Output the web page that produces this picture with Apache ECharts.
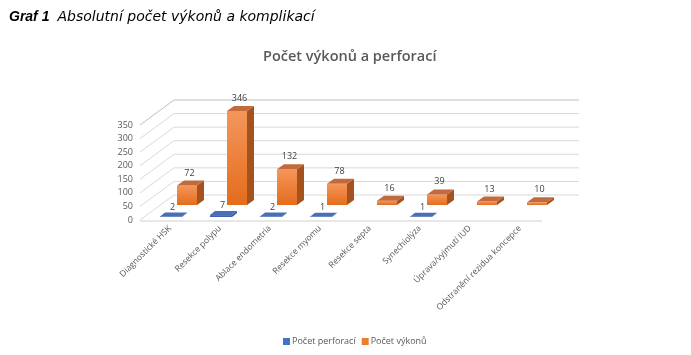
<!DOCTYPE html>
<html><head><meta charset="utf-8">
<script src="https://cdn.jsdelivr.net/npm/echarts@6/dist/echarts.min.js"></script>
<style>html,body{margin:0;padding:0;background:#fff}#c{width:691px;height:355px}</style>
</head><body><div id="c"></div>
<script>
const categories = ['Diagnostické HSK','Resekce polypu','Ablace endometria','Resekce myomu','Resekce septa','Synechiolýza','Úprava/vyjmutí IUD','Odstranění rezidua koncepce'];
const perforace = [2, 7, 2, 1, null, 1, null, null];
const vykony = [72, 346, 132, 78, 16, 39, 13, 10];
const yTicks = [0, 50, 100, 150, 200, 250, 300, 350];

const chart = echarts.init(document.getElementById('c'));
const WALL = [34, -25];

function boxItem(api, val, offX, offY, w, d, cFront, cSide, cTop, labelTxt, labGap) {
  const idx = api.value(0);
  const b = api.coord([idx, 0]);
  const t = api.coord([idx, val]);
  const x0 = b[0] + offX - w / 2, x1 = x0 + w;
  const yb = b[1] + offY, yt = t[1] + offY;
  const dx = d[0], dy = d[1];
  return {
    type: 'group',
    children: [
      {type: 'polygon', shape: {points: [[x1, yb], [x1, yt], [x1 + dx, yt + dy], [x1 + dx, yb + dy]]}, style: {fill: cSide}},
      {type: 'rect', shape: {x: x0, y: yt, width: w, height: Math.max(yb - yt, 0.01)}, style: {fill: cFront}},
      {type: 'polygon', shape: {points: [[x0, yt], [x1, yt], [x1 + dx, yt + dy], [x0 + dx, yt + dy]]}, style: {fill: cTop}},
      {type: 'text', style: {text: labelTxt, x: x0 + w / 2 + dx / 2 - 1, y: yt + dy - labGap, align: 'center', verticalAlign: 'bottom', fill: '#404040', font: '9px "Open Sans", sans-serif'}}
    ]
  };
}

const option = {
  animation: false,
  backgroundColor: '#fff',
  title: [
    {text: '{b|Graf 1} {i|Absolutní počet výkonů a komplikací}', left: 4, top: 3,
     textStyle: {fontWeight: 'normal', rich: {b: {fontFamily: 'Liberation Sans', fontWeight: 'bold', fontStyle: 'italic', fontSize: 14, color: '#000'},
                        i: {fontFamily: 'DejaVu Sans', fontWeight: 'normal', fontStyle: 'italic', fontSize: 14, color: '#000', padding: [0, 0, 0, 3]}}}},
    {text: 'Počet výkonů a perforací', left: 258, top: 44,
     textStyle: {fontFamily: 'Open Sans', fontWeight: 600, fontSize: 14.5, color: '#595959'}}
  ],
  legend: {
    bottom: 4, left: 278, itemWidth: 7, itemHeight: 7, itemGap: 6,
    textStyle: {fontFamily: 'Open Sans', fontSize: 9, color: '#595959', padding: [0, 0, 0, -3]},
    data: [{name: 'Počet perforací', icon: 'rect', itemStyle: {color: '#4472C4'}},
           {name: 'Počet výkonů', icon: 'rect', itemStyle: {color: '#ED7D31'}}]
  },
  grid: {left: 145, right: 146, top: 125, bottom: 135},
  xAxis: {
    type: 'category', data: categories,
    axisLine: {show: false}, axisTick: {show: false},
    axisLabel: {interval: 0, rotate: 45, fontSize: 8.5, color: '#595959', fontFamily: 'Open Sans', margin: 7}
  },
  yAxis: {
    type: 'value', min: 0, max: 350, interval: 50,
    axisLine: {show: false}, axisTick: {show: false}, splitLine: {show: false},
    axisLabel: {fontSize: 9, color: '#595959', fontFamily: 'Open Sans', margin: 12}
  },
  series: [
    {
      type: 'custom', name: 'walls', silent: true, z: 1,
      data: yTicks.map(v => [0, v]),
      renderItem: function (params, api) {
        const cs = params.coordSys;
        const v = api.value(1);
        const y = api.coord([0, v])[1];
        const lx = cs.x - 5;
        const children = [
          {type: 'polyline', shape: {points: [[lx, y], [lx + WALL[0], y + WALL[1]], [cs.x + cs.width + WALL[0], y + WALL[1]]]},
           style: {stroke: v === 350 ? '#bfbfbf' : '#d9d9d9', lineWidth: 1, fill: null}}
        ];
        if (v === 0) {
          children.push({type: 'line', shape: {x1: lx, y1: y + 1, x2: cs.x + cs.width - 3, y2: y + 1}, style: {stroke: '#d0d0d0', lineWidth: 1}});
        }
        return {type: 'group', children};
      }
    },
    {
      type: 'custom', name: 'Počet výkonů', z: 2,
      data: vykony.map((v, i) => [i, v]),
      renderItem: function (params, api) {
        const grad = new echarts.graphic.LinearGradient(0, 0, 0, 1, [{offset: 0, color: '#F4965C'}, {offset: 1, color: '#E46C1C'}]);
        return boxItem(api, api.value(1), 17, -15, 20, [7, -5], grad, '#A6521E', '#C26A3C', String(api.value(1)), 3);
      }
    },
    {
      type: 'custom', name: 'Počet perforací', z: 3,
      data: perforace.map((v, i) => [i, v]).filter(d => d[1] != null),
      renderItem: function (params, api) {
        return boxItem(api, api.value(1), 1, -3, 22, [5, -4], '#3F65AD', '#2F4F8A', '#4A6FB5', String(api.value(1)), 1);
      }
    }
  ]
};
chart.setOption(option);
</script></body></html>
